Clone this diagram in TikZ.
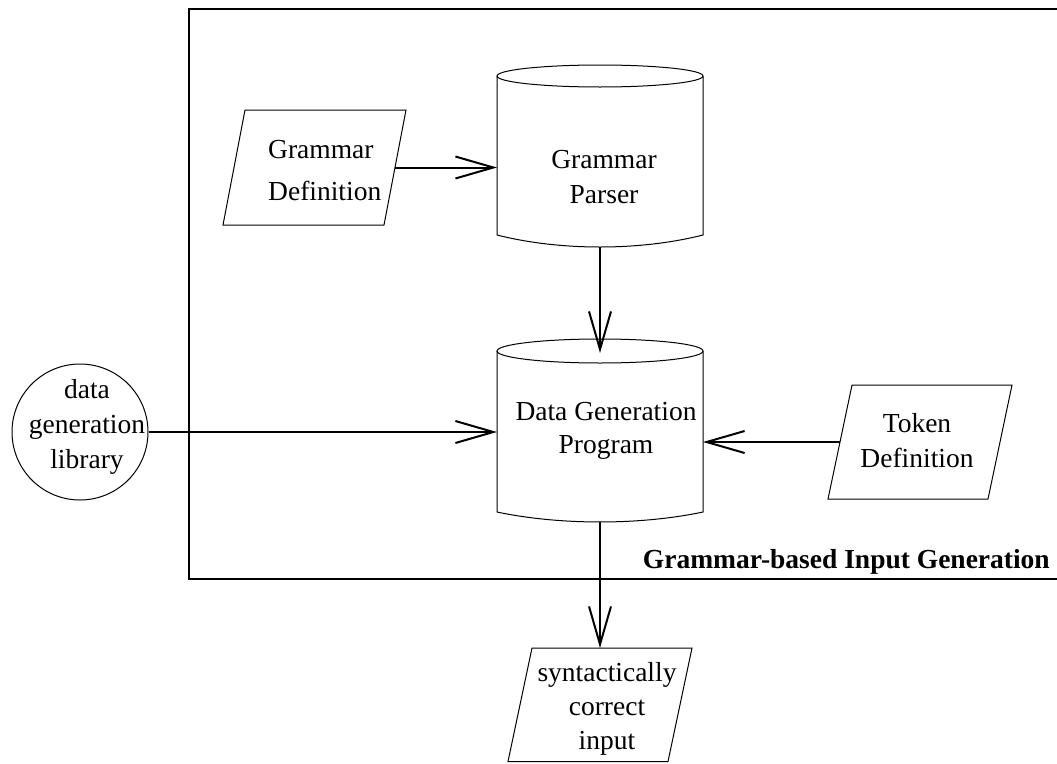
\documentclass[tikz,border=0pt]{standalone}
\usepackage{fontspec}
\setmainfont{Liberation Serif}
\usetikzlibrary{arrows.meta}
\begin{document}
\begin{tikzpicture}[x=1pt,y=-1pt,
  txt/.style={inner sep=0pt, align=center},
  fs35/.style={font=\fontsize{27.5}{35}\selectfont},
  fs33/.style={font=\fontsize{27.5}{33}\selectfont},
  fs34/.style={font=\fontsize{27.5}{34}\selectfont},
  fs42/.style={font=\fontsize{27.5}{42}\selectfont},
  outline/.style={line width=1pt, line join=miter},
  frameline/.style={line width=2.6pt},
  body/.style={inner sep=0pt, outer sep=0pt},
  arr/.style={line width=2pt, -{Straight Barb[length=38pt,width=22pt,line width=2pt]}}
]
\path[use as bounding box] (0,0) rectangle (1057,763);
\clip (0,0) rectangle (1057,763);

% frame
\draw[frameline] (189,9) rectangle (1080,579);
\node (ttl) [anchor=base east, inner sep=0pt, font=\fontsize{27.5}{33}\selectfont\bfseries] at (1050,568) {Grammar-based Input Generation};

% Grammar Parser cylinder
\node (gp) [body, minimum width=206pt, minimum height=171pt] at (600,161.5) {};
\draw[outline] (497,76) -- (497,235) .. controls (560,251) and (640,251) .. (703,235) -- (703,76);
\draw[outline] (600,76) ellipse [x radius=103, y radius=11];
\node (gpt) [txt, fs35] at (604,178.5) {\strut Grammar\\\strut Parser};

% Data Generation Program cylinder
\node (dg) [body, minimum width=206pt, minimum height=169pt] at (600,437.5) {};
\draw[outline] (497,351) -- (497,512) .. controls (560,525.3) and (640,525.3) .. (703,512) -- (703,351);
\draw[outline] (600,351) ellipse [x radius=103, y radius=12];
\node (dgt) [txt, fs33] at (606,430) {\strut Data Generation\\\strut Program};

% Grammar Definition
\node (gd) [body, minimum width=161pt, minimum height=115pt] at (314.5,167.5) {};
\draw[outline] (245,110) -- (406,110) -- (384,225) -- (223,225) -- cycle;
\node (gdt) [inner sep=0pt, align=left, fs42, anchor=west] at (268,170.6) {\strut Grammar\\\strut Definition};

% Token Definition
\node (td) [body, minimum width=160pt, minimum height=114pt] at (920,442) {};
\draw[outline] (852,385) -- (1012,385) -- (988,499) -- (828,499) -- cycle;
\node (tdt) [txt, fs35] at (917,442.5) {\strut Token\\\strut Definition};

% data generation library
\node (lib) [circle, draw, outline, minimum size=136pt, inner sep=0pt] at (80,432) {};
\node (libt) [txt, fs35] at (87,426) {\strut data\\\strut generation\\\strut library};

% output
\node (out) [body, minimum width=160pt, minimum height=113.5pt] at (600,704.75) {};
\draw[outline] (532,648) -- (692,648) -- (668,761.5) -- (508,761.5) -- cycle;
\node (outt) [txt, fs34] at (607,709) {\strut syntactically\\\strut correct\\\strut input};

% connectors
\draw[arr] (gd.east) -- (gd.east -| gp.west);
\draw[arr] (gp.south) -- (dg.north);
\draw[arr] (lib.east) -- (lib.east -| dg.west);
\draw[arr] (td.west) -- (td.west -| dg.east);
\draw[arr] (dg.south) -- (out.north);
\end{tikzpicture}
\end{document}
